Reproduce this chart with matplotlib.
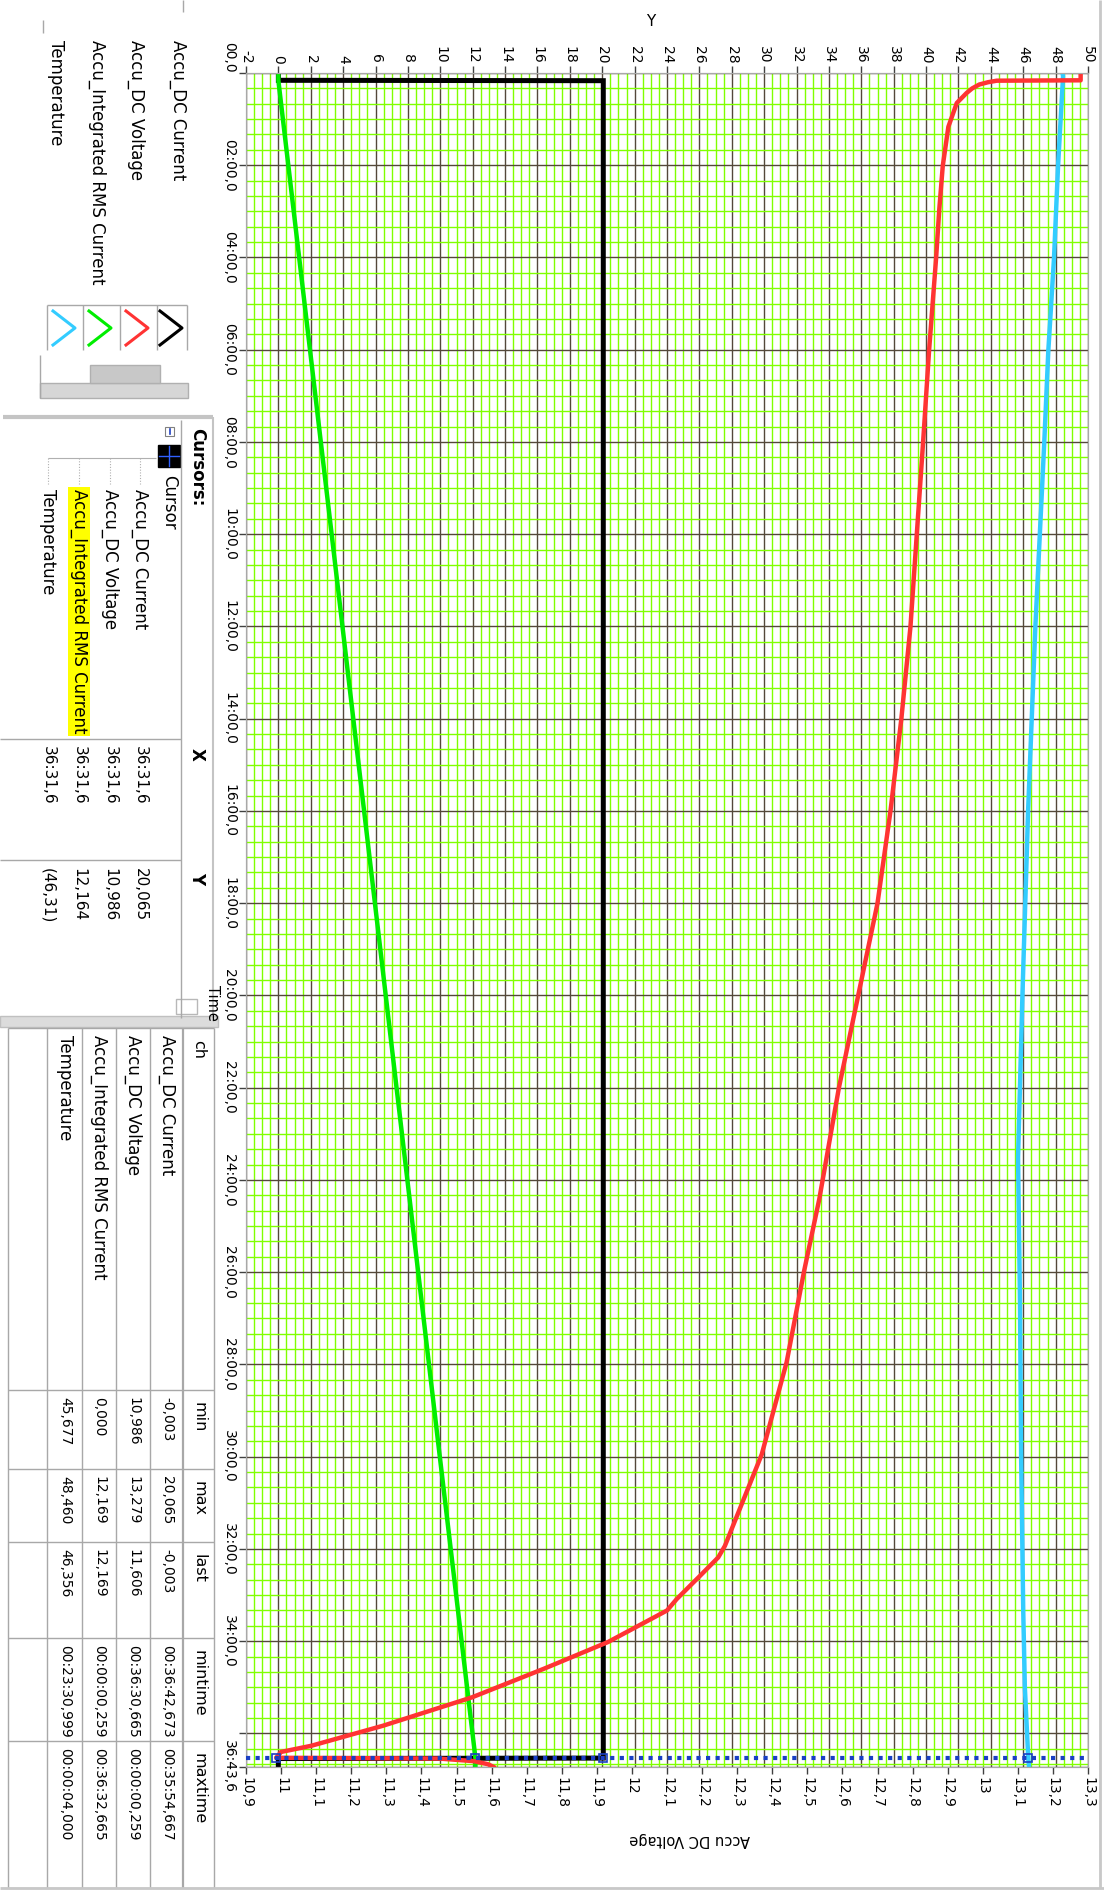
import matplotlib
matplotlib.use("Agg")
import matplotlib.pyplot as plt
from matplotlib.ticker import MultipleLocator, FixedLocator
from matplotlib.patches import Rectangle

W, H = 1104, 1893

# --- data (time in seconds) ---
t_current = [0, 9.5, 10, 2192.0, 2192.6, 2203.6]
current = [0.0, 0.0, 20.065, 20.065, -0.003, -0.003]

t_ah = [0, 10, 600, 1200, 1800, 2192.0, 2203.6]
ah = [0.0, 0.0, 3.29, 6.63, 9.97, 12.169, 12.169]

t_volt = [0, 9.5, 10, 12, 15, 20, 26, 39, 70, 121, 178, 241, 361, 480, 600, 720,
          840, 960, 1080, 1200, 1320, 1465, 1558, 1677, 1797, 1916, 1931, 1955,
          1985, 2000, 2041, 2076, 2113, 2150, 2176, 2184, 2191.6, 2192.6, 2196,
          2200, 2203.6]
volt = [13.279, 13.279, 13.04, 13.015, 12.99, 12.97, 12.954, 12.926, 12.902,
        12.886, 12.876, 12.867, 12.847, 12.83, 12.812, 12.794, 12.768, 12.737,
        12.70, 12.645, 12.59, 12.534, 12.491, 12.441, 12.370, 12.265, 12.246,
        12.194, 12.128, 12.10, 11.932, 11.748, 11.544, 11.29, 11.086, 11.0,
        10.986, 11.45, 11.55, 11.59, 11.606]

t_temp = [0, 4, 121, 241, 361, 480, 720, 960, 1200, 1411, 1600, 1800, 2000,
          2100, 2192, 2203.6]
temp = [48.42, 48.46, 48.15, 47.9, 47.55, 47.3, 46.75, 46.3, 45.95, 45.68,
        45.8, 45.87, 46.0, 46.1, 46.31, 46.36]

cursor_t = 2191.6

time_ticks = [0, 120, 240, 360, 480, 600, 720, 840, 960, 1080, 1200, 1320,
              1440, 1560, 1680, 1800, 1920, 2040, 2160, 2203.6]
time_labels = ["00,0", "02:00,0", "04:00,0", "06:00,0", "08:00,0", "10:00,0",
               "12:00,0", "14:00,0", "16:00,0", "18:00,0", "20:00,0", "22:00,0",
               "24:00,0", "26:00,0", "28:00,0", "30:00,0", "32:00,0", "34:00,0",
               "", "36:43,6"]
y_ticks = list(range(-2, 51, 2))
volt_ticks = [10.9, 11.0, 11.1, 11.2, 11.3, 11.4, 11.5, 11.6, 11.7, 11.8, 11.9,
              12.0, 12.1, 12.2, 12.3, 12.4, 12.5, 12.6, 12.7, 12.8, 12.9, 13.0,
              13.1, 13.2, 13.3]
volt_labels = ["10,9", "11", "11,1", "11,2", "11,3", "11,4", "11,5", "11,6",
               "11,7", "11,8", "11,9", "12", "12,1", "12,2", "12,3", "12,4",
               "12,5", "12,6", "12,7", "12,8", "12,9", "13", "13,1", "13,2", "13,3"]

channels = ["Accu_DC Current", "Accu_DC Voltage", "Accu_Integrated RMS Current",
            "Temperature"]
ch_colors = ["black", "#ff3333", "#00ee00", "#33ccff"]
cursor_x = ["36:31,6", "36:31,6", "36:31,6", "36:31,6"]
cursor_y = ["20,065", "10,986", "12,164", "(46,31)"]
stat_min = ["-0,003", "10,986", "0,000", "45,677"]
stat_max = ["20,065", "13,279", "12,169", "48,460"]
stat_last = ["-0,003", "11,606", "12,169", "46,356"]
stat_mintime = ["00:36:42,673", "00:36:30,665", "00:00:00,259", "00:23:30,999"]
stat_maxtime = ["00:35:54,667", "00:00:00,259", "00:36:32,665", "00:00:04,000"]

plt.rcParams["font.family"] = ["DejaVu Sans"]

fig = plt.figure(figsize=(W / 100, H / 100), dpi=100, facecolor="white")

# background axes in pixel coordinates for the side panels
bg = fig.add_axes([0, 0, 1, 1])
bg.set_xlim(0, W)
bg.set_ylim(H, 0)
bg.axis("off")

GRAY = "#a8a8a8"


def vtext(x, y, s, size=12, **kw):
    kw.setdefault("ha", "center")
    kw.setdefault("va", "top")
    return bg.text(x, y, s, rotation=-90, fontsize=size, **kw)


def hline(y, x0, x1, c=GRAY, lw=1.0):
    bg.plot([x0, x1], [y, y], color=c, lw=lw, solid_capstyle="butt")


def vline(x, y0, y1, c=GRAY, lw=1.0):
    bg.plot([x, x], [y0, y1], color=c, lw=lw, solid_capstyle="butt")


# --- main plot ---
ax = fig.add_axes([246 / W, 1 - 1767 / H, 842 / W, 1694 / H])
ax2 = ax.twiny()

ax.set_xlim(-2, 50)
ax.set_ylim(2203.6, 0)
ax.xaxis.tick_top()
ax.xaxis.set_major_locator(FixedLocator(y_ticks))
ax.xaxis.set_minor_locator(MultipleLocator(0.5))
ax.set_xticklabels([str(v) for v in y_ticks])
ax.yaxis.set_major_locator(FixedLocator(time_ticks))
ax.yaxis.set_minor_locator(MultipleLocator(20))
ax.set_yticklabels(time_labels)
ax.grid(which="minor", color="#80ff00", lw=1.0)
ax.grid(which="major", color="#54483a", lw=1.0)
ax.set_axisbelow(True)
ax.tick_params(which="major", direction="out", length=5, width=1, color="#404040",
               labelsize=10, pad=2)
ax.tick_params(which="minor", length=0)
ax.tick_params(axis="x", labelrotation=-90, top=True, labeltop=True,
               bottom=False, labelbottom=False)
ax.tick_params(axis="y", labelrotation=-90)
for lab in ax.get_yticklabels():
    lab.set_va("center")
ax.get_yticklabels()[0].set_va("bottom")
for s in ax.spines.values():
    s.set_color(GRAY)

ax.plot(current, t_current, color="black", lw=3.6, solid_joinstyle="miter")
ax.plot(ah, t_ah, color="#00ee00", lw=3.2)
ax.plot(temp, t_temp, color="#33ccff", lw=3.2)

ax2.set_xlim(10.9, 13.3)
ax2.xaxis.set_major_locator(FixedLocator(volt_ticks))
ax2.set_xticklabels(volt_labels)
ax2.tick_params(axis="x", direction="out", length=5, width=1, color="#404040",
                labelsize=10, pad=2, labelrotation=-90, bottom=True,
                labelbottom=True, top=False, labeltop=False)
ax2.patch.set_visible(False)
for s in ax2.spines.values():
    s.set_color(GRAY)
ax2.plot(volt, t_volt, color="#ff3333", lw=3.2)

# cursor
ax2.axhline(cursor_t, color="#1a3fc4", lw=3, ls=(0, (1, 1.3)), zorder=5)
cur_vals = [20.065, 12.164, 46.31]
for v in cur_vals:
    ax.plot(v, cursor_t, marker="s", ms=6, mfc="none", mec="#1a3fc4", mew=1.2, zorder=6)
ax2.plot(10.986, cursor_t, marker="s", ms=6, mfc="none", mec="#1a3fc4", mew=1.2, zorder=6)

# axis titles
bg.text(651, 22, "Y", ha="center", va="center", fontsize=11)
vtext(212, 985, "Time", size=10.5)
bg.text(690, 1840, "Accu DC Voltage", rotation=180, ha="center", va="center",
        fontsize=10.5)

# --- legend panel ---
leg_x = [178, 136, 97, 56]
for x, name in zip(leg_x, channels):
    vtext(x, 40, name)

vline(183, 0, 12)
vline(43, 20, 33)
box_edges = [47, 83, 120, 157, 187]
hline(305, 47, 187)
for x in box_edges:
    vline(x, 305, 350)
chev_cx = [172, 138, 101, 65]
for cx, c in zip(chev_cx, ch_colors):
    bg.plot([cx - 12, cx + 10, cx - 12], [311, 328, 345], color=c, lw=2.2)

bg.add_patch(Rectangle((40, 383), 148, 15, facecolor="#d6d6d6", edgecolor="#b0b0b0", lw=1))
bg.add_patch(Rectangle((90, 365), 70, 18, facecolor="#c8c8c8", edgecolor="#b0b0b0", lw=1))
vline(40, 355, 398)

# --- cursor panel ---
hline(417, 3, 213, c="#c4c4c4", lw=3)
vline(213, 417, 1018, c="#c4c4c4", lw=1.5)
vline(181, 420, 1018)
hline(739, 0, 181)
hline(860, 0, 181)
vtext(197, 428, "Cursors:", weight="bold")
bg.add_patch(Rectangle((165, 427), 9, 9, facecolor="white", edgecolor="#808080", lw=0.8))
bg.plot([169.5, 169.5], [429, 434], color="#2040c0", lw=1.2)
bg.add_patch(Rectangle((158, 445), 22, 22, facecolor="black", edgecolor="black"))
bg.plot([169, 169], [446, 466], color="#3060ff", lw=1)
bg.plot([159, 179], [456, 456], color="#3060ff", lw=1)
vtext(169, 475, "Cursor")
row_x = [140, 110, 79, 48]
hline(458, 48, 156, c="#b0b0b0", lw=0.8)
for x in row_x:
    bg.plot([x, x], [458, 484], color="#b0b0b0", lw=0.8, ls=(0, (1, 1.5)))
for i, (x, name, cx, cy) in enumerate(zip(row_x, channels, cursor_x, cursor_y)):
    if i == 2:
        vtext(x, 489, name, bbox=dict(facecolor="#ffff00", edgecolor="none", pad=1.5))
    else:
        vtext(x, 489, name)
    vtext(x, 746, cx, size=11)
    vtext(x, 868, cy, size=11)
vtext(197, 748, "X", weight="bold")
vtext(197, 872, "Y", weight="bold")

# splitter
bg.add_patch(Rectangle((0, 1016), 218, 11, facecolor="#dcdcdc", edgecolor="#c0c0c0", lw=1))
bg.add_patch(Rectangle((176, 999), 21, 15, facecolor="white", edgecolor="#b8b8b8", lw=1))

# --- statistics table ---
col_y = [1028, 1390, 1469, 1542, 1638, 1741, 1888]
row_edges = [214, 183, 150, 116, 82, 47, 8]
for y in col_y:
    hline(y, 8, 214)
for x in row_edges:
    vline(x, 1028, 1888, lw=1.6 if x == 183 else 1.0)
headers = ["ch", "min", "max", "last", "mintime", "maxtime"]
for y0, hd in zip(col_y[:-1], headers):
    vtext(199, y0 + 12, hd, size=11.5)
row_c = [167, 133, 99, 65]
for i, x in enumerate(row_c):
    cells = [channels[i], stat_min[i], stat_max[i], stat_last[i],
             stat_mintime[i], stat_maxtime[i]]
    for j, (y0, s) in enumerate(zip(col_y[:-1], cells)):
        vtext(x, y0 + 7, s, size=12 if j == 0 else 10)

# window borders
hline(1888, 0, 1104, c="#c8c8c8", lw=2)
vline(1100, 0, 1888, c="#c8c8c8", lw=2)

fig.savefig("out.png", dpi=100, facecolor="white")
